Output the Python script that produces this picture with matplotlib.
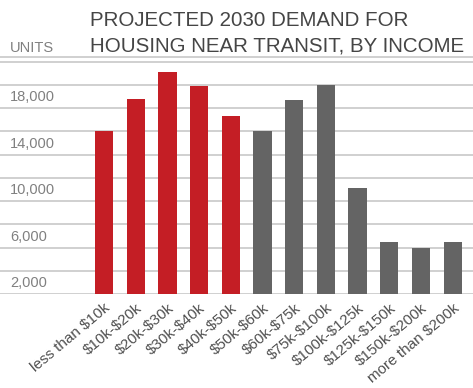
import numpy as np
import matplotlib.pyplot as plt

plt.rcParams['font.family'] = ['Liberation Sans', 'DejaVu Sans']
plt.rcParams['text.parse_math'] = False

# data
categories = ["less than $10k", "$10k-$20k", "$20k-$30k", "$30k-$40k", "$40k-$50k",
              "$50k-$60k", "$60k-$75k", "$75k-$100k", "$100k-$125k", "$125k-$150k",
              "$150k-$200k", "more than $200k"]
units = [14000, 16800, 19100, 17900, 15300, 14000, 16700, 18000, 9100, 4500, 4000, 4500]
is_red = [True] * 5 + [False] * 7
ytick_vals = [2000, 6000, 10000, 14000, 18000]

RED = "#c41e25"
GRAY = "#646464"
GRID = "#c8c8c8"

W, H = 473, 388
fig = plt.figure(figsize=(W / 100, H / 100), dpi=100)
bottom_px, top_px = 294, 57
ax = fig.add_axes([0, 1 - bottom_px / H, 1, (bottom_px - top_px) / H])

x = np.arange(len(categories))
colors = [RED if r else GRAY for r in is_red]
ax.bar(x, units, width=0.58, color=colors, zorder=3)

spacing = 31.7
first_px = 104
ax.set_xlim(-first_px / spacing, (W - first_px) / spacing)
ax.set_ylim(0, 20400)

for v in range(0, 20001, 2000):
    ax.axhline(v, color=GRID, lw=1.2, zorder=1)
ax.axhline(20400, color=GRID, lw=1.2, zorder=1, clip_on=False)

for v in ytick_vals:
    ax.annotate(f"{v:,}", xy=(10, v), xycoords=("figure pixels", "data"),
                xytext=(0, -4), textcoords="offset points",
                ha="left", va="top", fontsize=10.5, color="#808080")

for side in ax.spines.values():
    side.set_visible(False)
ax.set_yticks([])
ax.set_xticks(x)
ax.set_xticklabels(categories, rotation=40, ha="right", rotation_mode="anchor",
                   fontsize=11, color="#505050")
ax.tick_params(axis="x", length=0, pad=5)

fig.text(10 / W, 1 - 52 / H, "UNITS", fontsize=10.5, color="#808080",
         ha="left", va="baseline")
fig.text(90 / W, 1 - 26 / H, "PROJECTED 2030 DEMAND FOR", fontsize=14.8,
         color="#454545", ha="left", va="baseline")
fig.text(90 / W, 1 - 52 / H, "HOUSING NEAR TRANSIT, BY INCOME", fontsize=14.8,
         color="#454545", ha="left", va="baseline")

fig.savefig("out.png", dpi=100)
